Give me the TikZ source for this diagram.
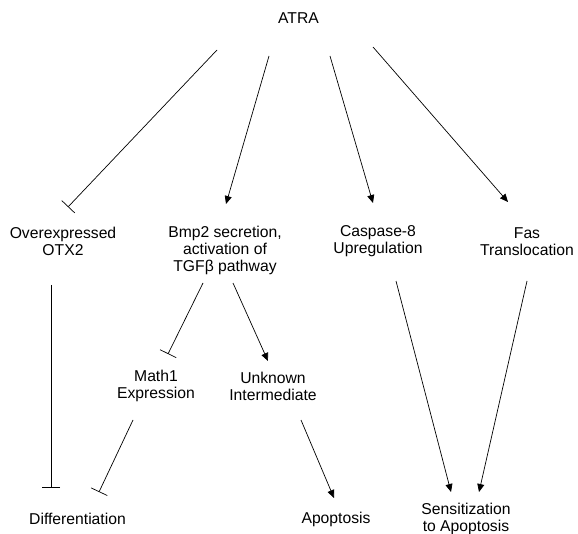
\documentclass[tikz,border=0pt]{standalone}
\usepackage{fontspec}
\setmainfont{Liberation Sans}
\usetikzlibrary{arrows.meta}

\begin{document}
\begin{tikzpicture}[x=1pt, y=-1pt,
    lbl/.style={align=center, font=\fontsize{15.7}{17}\selectfont, inner sep=0pt},
    act/.style={-{Triangle[length=8pt,width=7pt]}, line width=0.7pt},
    inh/.style={-{Bar[width=18pt]}, line width=0.7pt}]

    \useasboundingbox (0,0) rectangle (578,534);

    % --- Nodos (texto) ---
    \node[lbl] (atra) at (298.5,18) {ATRA};
    \node[lbl] (otx) at (63,241.5) {Overexpressed\\OTX2};
    \node[lbl] (bmp) at (225,250) {Bmp2 secretion,\\activation of\\TGFβ pathway};
    \node[lbl] (casp) at (378,241.5) {Caspase-8\\Upregulation};
    \node[lbl] (fas) at (527,241.5) {Fas\\Translocation};
    \node[lbl] (math) at (156,386) {Math1\\Expression};
    \node[lbl] (unk) at (273,386) {Unknown\\Intermediate};
    \node[lbl] (diff) at (77.5,519) {Differentiation};
    \node[lbl] (apop) at (336,519) {Apoptosis};
    \node[lbl] (sens) at (466,519) {Sensitization\\to Apoptosis};

    % --- Conectores: nombre / inicio (x,y) / fin (x,y) / estilo ---
    \foreach \n/\ax/\ay/\bx/\by/\s in {
        atra-otx/217/50/68/207/inh,
        atra-bmp/269/56/226/204/act,
        atra-casp/330/56/373/203/act,
        atra-fas/373/47/508/202/act,
        otx-diff/51/285/51/488/inh,
        bmp-math/203/283/168/354/inh,
        bmp-unk/233/283/268/361/act,
        math-diff/133/420/99/492/inh,
        unk-apop/301/420/334/498/act,
        casp-sens/396/281/451/492/act,
        fas-sens/527/281/479/492/act}{
        \coordinate (\n-a) at (\ax,\ay);
        \coordinate (\n-b) at (\bx,\by);
        \draw[\s] (\n-a) -- (\n-b);
    }

\end{tikzpicture}
\end{document}
